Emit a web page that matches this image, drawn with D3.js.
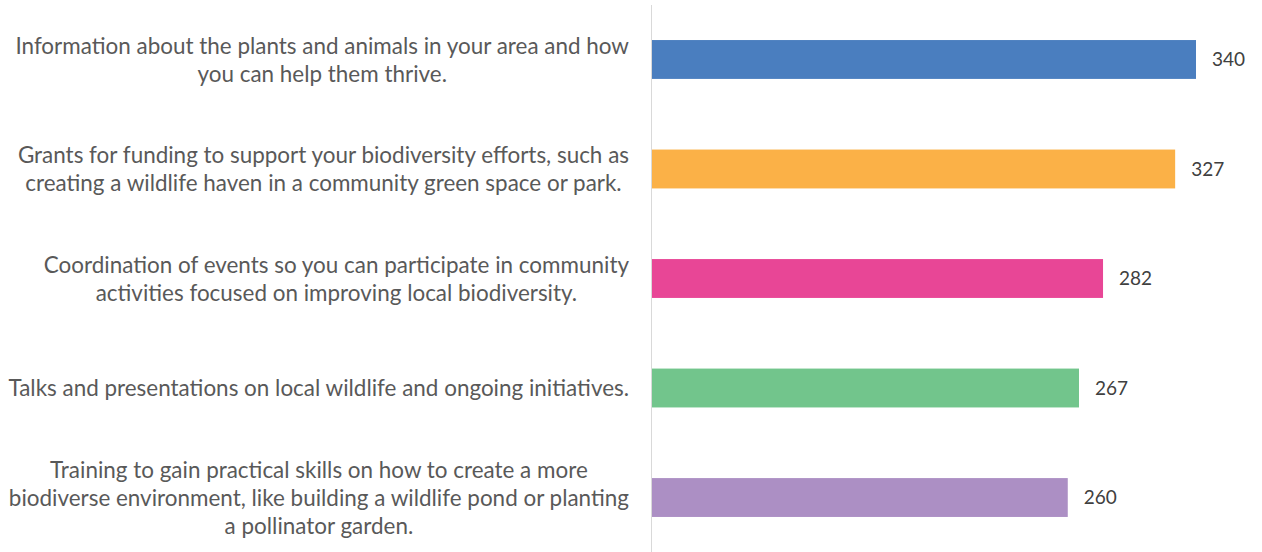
<!DOCTYPE html>
<html>
<head>
<meta charset="utf-8">
<script src="https://cdn.jsdelivr.net/npm/d3@7"></script>
<style>
  body { margin: 0; background: #fff; }
  svg { display: block; }
</style>
</head>
<body>
<div id="chart"></div>
<script>
// category labels, already broken into lines the way the original wraps them
const categories = [
  ["Information about the plants and animals in your area and how", "you can help them thrive."],
  ["Grants for funding to support your biodiversity efforts, such as", "creating a wildlife haven in a community green space or park."],
  ["Coordination of events so you can participate in community", "activities focused on improving local biodiversity."],
  ["Talks and presentations on local wildlife and ongoing initiatives."],
  ["Training to gain practical skills on how to create a more", "biodiverse environment, like building a wildlife pond or planting", "a pollinator garden."]
];
const values = [340, 327, 282, 267, 260];
const colors = ["#4A7EBF", "#FBB147", "#E84696", "#72C58C", "#AC8FC4"];

const width = 1262;
const height = 552;
const margin = { top: 5, right: 66, bottom: 0, left: 651 };
const font = "Lato, 'Open Sans', sans-serif";

const svg = d3.select("#chart")
  .append("svg")
  .attr("width", width)
  .attr("height", height);

const x = d3.scaleLinear()
  .domain([0, 340])
  .range([margin.left, 1196]);

const y = d3.scaleBand()
  .domain(d3.range(categories.length))
  .range([margin.top, height - margin.bottom])
  .paddingInner(0.645)
  .paddingOuter(0.32);

// bars
svg.selectAll("rect.bar")
  .data(values)
  .join("rect")
  .attr("class", "bar")
  .attr("x", x(0))
  .attr("y", (d, i) => y(i))
  .attr("width", d => x(d) - x(0))
  .attr("height", y.bandwidth())
  .attr("fill", (d, i) => colors[i]);

// vertical category axis line
svg.append("line")
  .attr("x1", x(0) + 0.5)
  .attr("x2", x(0) + 0.5)
  .attr("y1", margin.top)
  .attr("y2", height)
  .attr("stroke", "#D9D9D9")
  .attr("stroke-width", 1);

// value labels
svg.selectAll("text.value")
  .data(values)
  .join("text")
  .attr("class", "value")
  .attr("x", d => x(d) + 16)
  .attr("y", (d, i) => y(i) + y.bandwidth() / 2)
  .attr("dy", "0.36em")
  .attr("font-family", font)
  .attr("font-size", 19)
  .attr("fill", "#404040")
  .text(d => d);

// category labels: lines centred in a block whose right edge sits by the axis
const labelRight = 629;
const lineGap = 28;
let fontSize = 18;

const groups = svg.selectAll("g.cat")
  .data(categories)
  .join("g")
  .attr("class", "cat")
  .attr("font-family", font)
  .attr("fill", "#595959");

groups.selectAll("text")
  .data(d => d)
  .join("text")
  .attr("font-size", fontSize)
  .text(d => d);

// fit the widest line to the original width (Calibri is narrower)
let widest = 0;
groups.selectAll("text").each(function() {
  widest = Math.max(widest, this.getComputedTextLength());
});
fontSize = fontSize * 621 / widest;
groups.selectAll("text").attr("font-size", fontSize);

groups.each(function(lines, i) {
  const g = d3.select(this);
  let blockW = 0;
  g.selectAll("text").each(function() {
    blockW = Math.max(blockW, this.getComputedTextLength());
  });
  const cx = labelRight - blockW / 2;
  const cy = y(i) + y.bandwidth() / 2;
  const n = lines.length;
  g.selectAll("text")
    .attr("text-anchor", "middle")
    .attr("x", cx)
    .attr("y", (d, j) => cy + (j - (n - 1) / 2) * lineGap)
    .attr("dy", "0.36em");
});
</script>
</body>
</html>
